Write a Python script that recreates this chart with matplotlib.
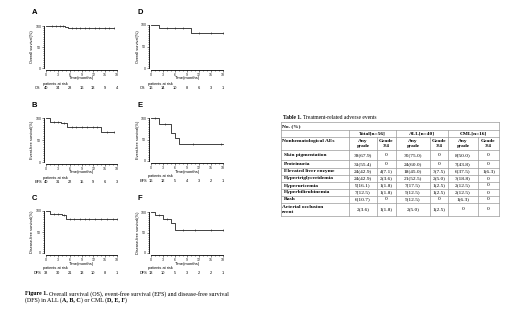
import matplotlib
matplotlib.use("Agg")
from matplotlib import pyplot as plt
from matplotlib.transforms import blended_transform_factory
import numpy as np

# Kaplan-Meier curves (step points)
months = [0, 3, 6, 9, 12, 15, 18]

os_all_t = [0, 4.9, 5.6, 17.2]
os_all_s = [100, 97.4, 94.6, 94.6]
os_all_c = [1.5, 2.5, 3.5, 4.3, 6.5, 7.5, 8.5, 10, 11, 12.5, 13.5, 15, 16, 17.2]
os_all_risk = [40, 34, 28, 16, 13, 9, 4]

efs_all_t = [0, 1.1, 3.9, 5.2, 14.0, 17.2]
efs_all_s = [100, 91, 87.7, 80, 69, 69]
efs_all_c = [2, 3, 4.5, 6.5, 7.5, 9, 10.5, 12, 13, 15.5, 17.2]
efs_all_risk = [40, 31, 22, 15, 9, 6, 3]

dfs_all_t = [0, 1.1, 4.0, 5.1, 18]
dfs_all_s = [100, 93.6, 89.7, 81, 81]
dfs_all_c = [2, 3, 4.5, 6, 7, 8.5, 10, 11, 12.5, 14, 15.5, 17, 18]
dfs_all_risk = [38, 30, 21, 13, 10, 8, 1]

os_cml_t = [0, 2.1, 10, 18]
os_cml_s = [100, 93, 80.5, 80.5]
os_cml_c = [4, 6, 8, 12, 15, 18]
os_cml_risk = [16, 14, 10, 8, 6, 3, 1]

efs_cml_t = [0, 2, 5, 6, 7, 18]
efs_cml_s = [100, 86, 64.5, 53, 38.6, 38.6]
efs_cml_c = [1, 3.5, 10.5, 17.5]
efs_cml_risk = [16, 12, 5, 4, 3, 2, 1]

dfs_cml_t = [0, 1, 3.1, 5, 6, 18]
dfs_cml_s = [100, 93.6, 84, 72, 56, 56]
dfs_cml_c = [2, 4, 8, 11, 15, 18]
dfs_cml_risk = [13, 10, 5, 3, 2, 2, 1]

# Table 1 data
ae_names = ["Skin pigmentation", "Proteinuria", "Elevated liver enzyme",
            "Hypertriglyceridemia", "Hyperuricemia", "Hyperbilirubinemia",
            "Rash", "Arterial occlusion\nevent"]
total_any = ["38(67.9)", "31(55.4)", "24(42.9)", "24(42.9)", "9(16.1)", "7(12.5)", "6(10.7)", "2(3.6)"]
total_g34 = ["0", "0", "4(7.1)", "2(3.6)", "1(1.8)", "1(1.8)", "0", "1(1.8)"]
all_any = ["30(75.0)", "24(60.0)", "18(45.0)", "21(52.5)", "7(17.5)", "5(12.5)", "5(12.5)", "2(5.0)"]
all_g34 = ["0", "0", "3(7.5)", "2(5.0)", "1(2.5)", "1(2.5)", "0", "1(2.5)"]
cml_any = ["8(50.0)", "7(43.8)", "6(37.5)", "3(18.8)", "2(12.5)", "2(12.5)", "1(6.3)", "0"]
cml_g34 = ["0", "0", "1(6.3)", "0", "0", "0", "0", "0"]
groups = ["Total[n=56]", "ALL[n=40]", "CML[n=16]"]

W, H = 520, 309
fig = plt.figure(figsize=(W / 100, H / 100), dpi=100)
fig.patch.set_facecolor("white")
sans = "Liberation Sans"
serif = "Liberation Serif"
ink = "#222222"


def fy(ypx):
    return 1 - ypx / H


def km_panel(letter, box, ylab, tag, t, s, cens, risk):
    x0, x1, ytop, ybot = box
    ax = fig.add_axes([x0 / W, fy(ybot), (x1 - x0) / W, (ybot - ytop) / H])
    ax.step(t, s, where="post", color=ink, lw=0.6, clip_on=False)
    idx = np.searchsorted(t, cens, side="right") - 1
    ax.plot(cens, np.array(s)[idx], ls="none", marker="|", ms=1.6, mew=0.4,
            color=ink, clip_on=False)
    ax.set_xlim(0, 18)
    ax.set_ylim(0, 100)
    for side in ["top", "right"]:
        ax.spines[side].set_visible(False)
    for side in ["left", "bottom"]:
        ax.spines[side].set_position(("outward", 1.6))
        ax.spines[side].set_linewidth(0.6)
    ax.set_xticks(months)
    ax.set_xticks(np.arange(0, 19, 1), minor=True)
    ax.set_yticks([0, 50, 100])
    ax.set_yticks(np.arange(0, 101, 5), minor=True)
    ax.tick_params(which="both", width=0.4, colors=ink, labelsize=2.6, pad=0.5)
    ax.tick_params(which="major", length=1.3)
    ax.tick_params(which="minor", length=0.8)
    for lab in ax.get_xticklabels() + ax.get_yticklabels():
        lab.set_family(sans)
    fig.text((x0 - 14) / W, fy(ytop - 13), letter, fontsize=5.5, fontweight="bold",
             family=sans, va="center", ha="left")
    fig.text((x0 - 13.5) / W, fy((ytop + ybot) / 2), ylab, rotation=90, fontsize=2.8,
             family=sans, va="center", ha="center")
    fig.text((x0 + x1) / 2 / W, fy(ybot + 10.5), "Time(months)", fontsize=3,
             family=sans, va="center", ha="center")
    fig.text((x0 - 3) / W, fy(ybot + 15.5), "patients at risk", fontsize=2.8,
             family=sans, va="center", ha="left")
    tr = blended_transform_factory(ax.transData, fig.transFigure)
    fig.text((x0 - 8) / W, fy(ybot + 20), tag, fontsize=2.8, family=sans,
             va="center", ha="center")
    for m, n in zip(months, risk):
        ax.text(m, fy(ybot + 20), str(n), transform=tr, fontsize=2.8, family=sans,
                va="center", ha="center")
    return ax


km_panel("A", (46, 117, 26, 68), "Overall survival(%)", "OS",
         os_all_t, os_all_s, os_all_c, os_all_risk)
km_panel("D", (151, 223, 25, 68), "Overall survival(%)", "OS",
         os_cml_t, os_cml_s, os_cml_c, os_cml_risk)
km_panel("B", (46, 117, 118, 162), "Event-free survival(%)", "EFS",
         efs_all_t, efs_all_s, efs_all_c, efs_all_risk)
km_panel("E", (151, 223, 118, 161), "Event-free survival(%)", "EFS",
         efs_cml_t, efs_cml_s, efs_cml_c, efs_cml_risk)
km_panel("C", (46, 117, 211, 253), "Disease-free survival(%)", "DFS",
         dfs_all_t, dfs_all_s, dfs_all_c, dfs_all_risk)
km_panel("F", (151, 223, 212, 253), "Disease-free survival(%)", "DFS",
         dfs_cml_t, dfs_cml_s, dfs_cml_c, dfs_cml_risk)


def text_runs(x, y, runs, size):
    renderer = fig.canvas.get_renderer()
    for s, bold in runs:
        t = fig.text(x / W, fy(y), s, fontsize=size, family=serif,
                     fontweight="bold" if bold else "normal", va="center", ha="left")
        x += t.get_window_extent(renderer).width


# figure caption
text_runs(25, 294, [("Figure 1. ", True),
                    ("Overall survival (OS), event-free survival (EFS) and disease-free survival", False)], 4.3)
text_runs(25, 300, [("(DFS) in ALL (", False), ("A, B, C", True), (") or CML (", False),
                    ("D, E, F", True), (").", False)], 4.3)

# Table 1
text_runs(283, 117, [("Table 1. ", True), ("Treatment-related adverse events", False)], 4)

cols = [281, 349, 377, 396, 430, 448, 478, 499]
head = [122, 130, 137, 150]
body = [150, 160, 167.5, 175, 182, 189, 196, 203, 216]
lc = "#9a9a9a"
lw = 0.5


def hline(y, xa, xb):
    fig.add_artist(plt.Line2D([xa / W, xb / W], [fy(y), fy(y)], color=lc, lw=lw))


def vline(x, ya, yb):
    fig.add_artist(plt.Line2D([x / W, x / W], [fy(ya), fy(yb)], color=lc, lw=lw))


for y in head + body[1:]:
    hline(y, cols[0], cols[-1])
vline(cols[0], head[0], body[-1])
vline(cols[-1], head[0], body[-1])
for x in [cols[1], cols[3], cols[5]]:
    vline(x, head[1], body[-1])
for x in [cols[2], cols[4], cols[6]]:
    vline(x, head[2], body[-1])


def cell(x, y, s, bold=False, ha="center"):
    fig.text(x / W, fy(y), s, fontsize=3.9, family=serif, ha=ha, va="center",
             fontweight="bold" if bold else "normal", linespacing=1.1)


cell(cols[0] + 1.5, (head[0] + head[1]) / 2, "No. (%)", bold=True, ha="left")
for i, g in enumerate(groups):
    cell((cols[1 + 2 * i] + cols[3 + 2 * i]) / 2, (head[1] + head[2]) / 2, g, bold=True)
cell(cols[0] + 1.5, head[2] + 4, "Nonhematological AEs", bold=True, ha="left")
for i in range(3):
    cell((cols[1 + 2 * i] + cols[2 + 2 * i]) / 2, (head[2] + head[3]) / 2, "Any\ngrade", bold=True)
    cell((cols[2 + 2 * i] + cols[3 + 2 * i]) / 2, (head[2] + head[3]) / 2, "Grade\n3/4", bold=True)

for r, name in enumerate(ae_names):
    yc = (body[r] + body[r + 1]) / 2
    if "\n" in name:
        cell(cols[0] + 1, yc, name, bold=True, ha="left")
    else:
        cell(cols[0] + 3, yc, name, bold=True, ha="left")
    vals = [total_any[r], total_g34[r], all_any[r], all_g34[r], cml_any[r], cml_g34[r]]
    for c, v in enumerate(vals):
        cell((cols[1 + c] + cols[2 + c]) / 2, yc, v)

fig.savefig("out.png", dpi=100)
